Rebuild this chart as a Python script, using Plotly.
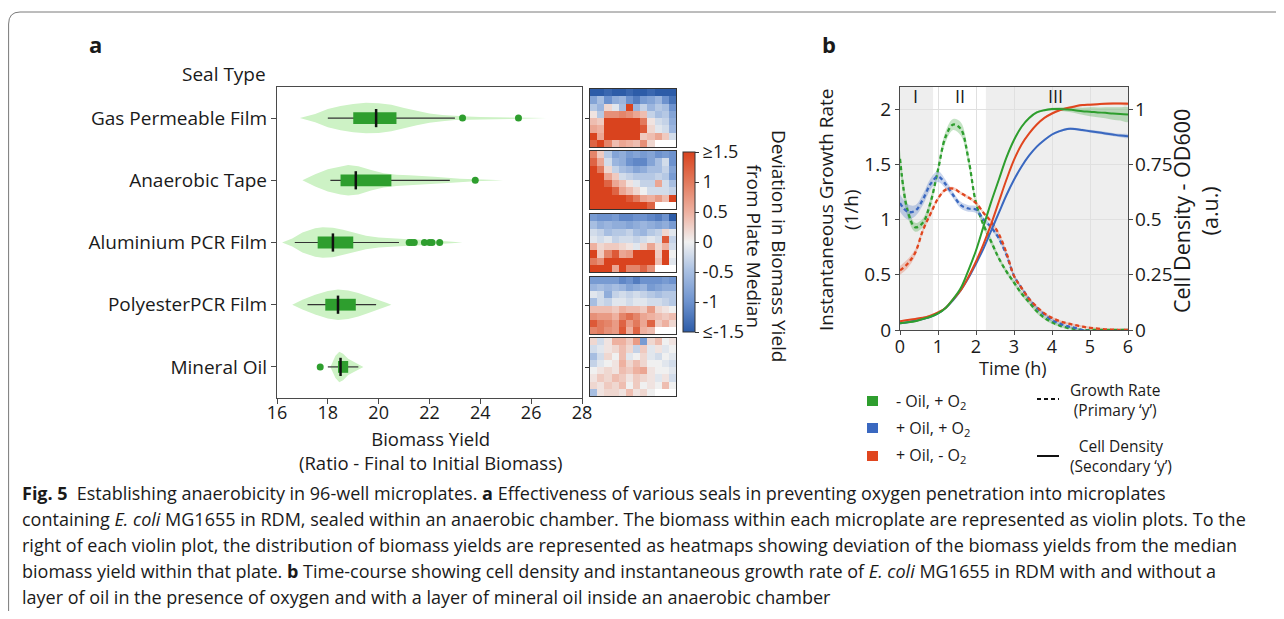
import plotly.graph_objects as go

# page has an 8px body margin: figure covers page pixels 8..1276 x 8..611
PAGE_OFF = 8
W, H = 1268, 603
FONT = "Open Sans"
def fx(p):
    return (p - PAGE_OFF) / W
def fy(p):
    return 1 - (p - PAGE_OFF) / H

# ---------------- Panel a data ----------------
seal_types = ["Gas Permeable Film", "Anaerobic Tape", "Aluminium PCR Film", "PolyesterPCR Film", "Mineral Oil"]

# violin outlines: yield values and relative density (0..1)
violin_x = [
    [16.9, 17.5, 18.0, 18.5, 19.0, 19.5, 20.0, 20.5, 21.0, 21.5, 22.0, 22.5, 23.0, 23.5, 24.0, 25.0, 26.0, 26.6],
    [17.0, 17.5, 18.0, 18.5, 18.8, 19.2, 19.7, 20.2, 20.7, 21.2, 21.7, 22.2, 22.7, 23.2, 23.8, 24.9],
    [16.2, 16.6, 17.0, 17.5, 17.8, 18.2, 18.6, 19.0, 19.5, 20.0, 20.5, 21.0, 21.5, 22.0, 22.5, 23.3],
    [16.6, 17.0, 17.5, 18.0, 18.4, 18.8, 19.2, 19.6, 20.0, 20.3, 20.5],
    [18.1, 18.2, 18.3, 18.45, 18.6, 18.8, 19.0, 19.2, 19.4],
]
violin_density = [
    [0, 0.27, 0.6, 0.8, 0.93, 1.0, 0.97, 0.87, 0.67, 0.47, 0.3, 0.2, 0.13, 0.1, 0.07, 0.05, 0.03, 0],
    [0, 0.4, 0.73, 0.93, 1.0, 0.93, 0.67, 0.47, 0.37, 0.33, 0.3, 0.23, 0.17, 0.1, 0.07, 0],
    [0, 0.26, 0.65, 0.94, 1.0, 0.97, 0.84, 0.65, 0.45, 0.32, 0.26, 0.23, 0.19, 0.16, 0.1, 0],
    [0, 0.32, 0.65, 0.9, 1.0, 0.94, 0.77, 0.55, 0.32, 0.13, 0],
    [0, 0.33, 0.73, 1.0, 0.87, 0.53, 0.33, 0.17, 0],
]
box_low = [18.0, 18.1, 16.7, 17.2, 18.0]
box_q1 = [19.0, 18.5, 17.6, 17.9, 18.4]
box_median = [19.9, 19.1, 18.2, 18.4, 18.5]
box_q3 = [20.7, 20.5, 19.0, 19.1, 18.8]
box_high = [23.0, 22.8, 20.8, 19.9, 19.2]
outliers = [
    [23.3, 25.5],
    [23.8],
    [21.2, 21.3, 21.4, 21.8, 22.0, 22.1, 22.4],
    [],
    [17.7],
]
yield_ticks = [16, 18, 20, 22, 24, 26, 28]

# heatmaps: deviation from plate median, 8 rows x 12 columns
heat_gas = [
    [-1.5, -1.5, -1.4, -1.5, -1.5, -1.4, -1.5, -1.5, -1.4, -1.5, -1.5, -1.5],
    [-0.8, -0.5, -1.0, -0.7, -0.6, -1.0, -1.2, -0.9, -0.8, -0.6, -1.0, -1.3],
    [-0.4, -0.6, 0.2, -0.1, -0.5, 1.5, -0.6, -0.3, -0.6, -0.4, -0.5, -1.0],
    [0.1, -0.4, 0.8, 0.8, 0.9, 0.8, 0.6, 0.4, -0.3, -0.5, -0.4, -0.8],
    [0.4, 0.3, 1.5, 1.5, 1.5, 1.5, 1.5, 1.0, 0.1, -0.2, -0.3, -0.7],
    [0.6, 0.5, 1.5, 1.5, 1.5, 1.5, 1.5, 1.3, 0.2, -0.1, -0.2, -0.6],
    [1.5, 0.6, 1.5, 1.5, 1.5, 1.5, 1.5, 0.3, 0.4, 0.6, 0.3, -0.2],
    [1.2, 1.5, 0.9, 0.4, 0.6, 0.5, 0.4, 0.8, 0.2, None, None, None],
]
heat_tape = [
    [0.9, 0.3, -0.4, -0.8, -0.7, -0.9, -0.8, -0.9, -0.8, -1.0, -0.9, -1.0],
    [1.2, 0.6, -0.2, -0.6, -0.7, -1.0, -1.1, -1.1, -0.8, -0.5, -0.2, -1.0],
    [1.5, 1.0, 0.2, -0.3, -0.5, -0.6, -0.8, -0.7, -0.5, -0.5, -0.3, -0.8],
    [1.5, 1.5, 0.6, 0.3, -0.2, -0.3, -0.4, -0.4, -0.4, -0.3, -0.4, -0.9],
    [1.5, 1.5, 1.2, 0.6, 0.4, 0.1, -0.1, -0.3, -0.3, 0.6, -0.2, -0.5],
    [1.5, 1.5, 1.5, 1.2, 0.6, 0.4, 0.2, 0.0, -0.2, -0.2, -0.2, -0.3],
    [1.5, 1.5, 1.5, 1.5, 1.5, 1.3, 1.0, 0.6, 0.5, 0.7, 0.4, 1.5],
    [1.5, 1.5, 1.5, 1.5, 1.5, 1.5, 1.5, 1.5, 1.2, None, None, None],
]
heat_alu = [
    [-0.9, -1.0, -1.0, -0.9, -1.1, -1.1, -1.0, -1.0, -1.1, -1.2, -1.0, -1.5],
    [-0.5, -0.7, -0.6, -0.7, -0.7, -0.8, -0.7, -0.6, -0.7, -0.8, -0.7, -0.9],
    [-0.2, -0.3, -0.5, -0.4, -0.4, -0.3, -0.5, -0.6, -0.4, -0.3, 0.2, -0.1],
    [-0.1, -0.2, -0.1, -0.3, -0.2, -0.2, -0.3, -0.2, -0.1, -0.2, 1.3, -0.3],
    [0.5, 0.2, 0.3, 0.3, 0.2, 0.1, -0.1, 0.2, 0.6, 0.2, 0.5, -0.2],
    [1.5, 0.3, 0.9, 1.3, 0.6, 0.7, 1.5, 1.5, 1.5, 0.3, 1.5, 0.0],
    [1.0, 0.8, 1.5, 1.5, 1.5, 1.5, 1.5, 1.5, 1.5, 0.4, 1.5, -0.1],
    [1.5, 1.5, 1.5, 0.6, 1.5, 0.9, 0.9, 1.2, 0.8, None, None, None],
]
heat_poly = [
    [-0.9, -0.9, -0.9, -0.9, -1.1, -1.0, -1.2, -1.0, -1.0, -1.0, -0.9, -1.0],
    [-0.6, -0.5, -0.6, -0.5, -0.6, -0.8, -0.7, -0.6, -0.9, -0.8, -0.7, -0.7],
    [-0.1, -0.2, -0.7, -0.3, -0.2, -0.3, -0.2, -0.3, -0.4, -0.5, -0.4, -0.4],
    [-0.5, -0.2, -0.3, -0.1, -0.1, -0.2, -0.1, -0.1, -0.2, -0.2, -0.3, -0.4],
    [0.4, 0.4, 0.4, 0.3, 0.5, 0.4, 0.4, 0.3, 0.7, 0.2, 0.1, 0.0],
    [0.8, 0.7, 0.7, 0.5, 0.9, 1.1, 0.9, 0.6, 0.5, 0.4, 0.3, 0.4],
    [1.3, 1.0, 0.9, 0.7, 1.2, 0.7, 1.0, 0.6, 1.2, 0.3, 0.5, 0.2],
    [0.9, 1.0, 0.8, 0.7, 1.3, 0.5, 1.2, 0.5, 0.4, None, None, None],
]
heat_oil = [
    [0.2, -0.2, 0.1, 0.5, 0.5, 0.3, 0.7, -0.9, 0.2, 0.4, 0.0, 0.1],
    [-0.2, -0.1, 0.1, 0.2, 0.4, 0.2, -0.3, 0.3, -0.1, 0.1, -0.1, 0.0],
    [-0.5, -0.2, 0.2, 0.0, 0.4, -0.1, 0.0, 0.2, -0.1, -0.2, 0.0, -0.1],
    [-0.3, -0.1, 0.0, 0.1, 0.5, 0.2, 0.4, 0.2, 0.0, 0.0, -0.1, -0.2],
    [0.0, 0.1, 0.2, 0.1, 0.4, 0.3, 0.5, 0.6, 0.1, 0.0, 0.0, -0.1],
    [0.1, 0.3, 0.2, 0.4, 0.3, 0.1, 0.3, 0.2, 0.1, -0.1, 0.1, -0.2],
    [0.2, 0.1, 0.3, 0.2, 0.4, 0.0, 0.3, 0.0, 0.1, 0.0, 0.4, 0.0],
    [-0.5, 0.1, 0.2, 0.2, 0.1, 0.4, 0.1, 0.2, 0.0, None, None, None],
]
heatmaps = [heat_gas, heat_tape, heat_alu, heat_poly, heat_oil]
cbar_vals = [-1.5, -1, -0.5, 0, 0.5, 1, 1.5]
cbar_text = ["≤-1.5", "-1", "-0.5", "0", "0.5", "1", "≥1.5"]

# ---------------- Panel b data ----------------
time_h = [0.0, 0.2, 0.4, 0.6, 0.8, 1.0, 1.2, 1.4, 1.6, 1.8, 2.0, 2.2, 2.4, 2.6, 2.8, 3.0,
          3.2, 3.4, 3.6, 3.8, 4.0, 4.2, 4.4, 4.6, 4.8, 5.0, 5.2, 5.4, 5.6, 5.8, 6.0]
rate_green = [1.55, 1.08, 0.93, 0.97, 1.15, 1.45, 1.75, 1.86, 1.82, 1.55, 1.15, 0.95, 0.80, 0.65, 0.53, 0.43,
              0.33, 0.25, 0.17, 0.11, 0.07, 0.04, 0.02, 0.01, 0.0, 0.0, 0.0, 0.0, 0.0, 0.0, 0.0]
rate_blue = [1.15, 1.07, 1.08, 1.18, 1.32, 1.39, 1.32, 1.22, 1.13, 1.10, 1.09, 1.00, 0.93, 0.83, 0.68, 0.49,
             0.38, 0.28, 0.20, 0.14, 0.09, 0.06, 0.035, 0.02, 0.0, -0.01, -0.02, -0.02, -0.02, -0.015, -0.01]
rate_red = [0.54, 0.60, 0.70, 0.90, 1.05, 1.19, 1.27, 1.28, 1.24, 1.20, 1.15, 1.06, 0.98, 0.87, 0.70, 0.49,
            0.38, 0.28, 0.21, 0.15, 0.11, 0.08, 0.06, 0.045, 0.03, 0.02, 0.012, 0.006, 0.003, 0.0, 0.0]
od_green = [0.03, 0.035, 0.04, 0.05, 0.06, 0.075, 0.10, 0.14, 0.19, 0.27, 0.36, 0.47, 0.58, 0.68, 0.78, 0.86,
            0.92, 0.96, 0.985, 0.995, 1.0, 1.0, 0.998, 0.995, 0.99, 0.988, 0.985, 0.983, 0.98, 0.978, 0.975]
od_red = [0.04, 0.045, 0.05, 0.055, 0.065, 0.08, 0.10, 0.14, 0.18, 0.24, 0.31, 0.39, 0.48, 0.58, 0.68, 0.77,
          0.84, 0.89, 0.93, 0.96, 0.98, 0.995, 1.005, 1.012, 1.018, 1.02, 1.022, 1.024, 1.025, 1.025, 1.024]
od_blue = [0.03, 0.035, 0.042, 0.05, 0.06, 0.075, 0.10, 0.135, 0.18, 0.235, 0.30, 0.37, 0.45, 0.53, 0.61, 0.68,
           0.74, 0.79, 0.83, 0.86, 0.885, 0.90, 0.91, 0.91, 0.905, 0.90, 0.895, 0.89, 0.885, 0.88, 0.877]
# confidence half-widths
rate_green_ci = [0.08, 0.06, 0.04, 0.04, 0.04, 0.04, 0.05, 0.05, 0.06, 0.05, 0.03, 0.03, 0.03, 0.02, 0.02, 0.02,
                 0.02, 0.02, 0.02, 0.015, 0.015, 0.01, 0.01, 0.01, 0.01, 0.01, 0.01, 0.01, 0.01, 0.01, 0.01]
rate_blue_ci = [0.08, 0.07, 0.05, 0.05, 0.05, 0.05, 0.04, 0.03, 0.03, 0.03, 0.03, 0.02, 0.02, 0.02, 0.02, 0.02,
                0.015, 0.015, 0.015, 0.015, 0.015, 0.01, 0.01, 0.01, 0.01, 0.01, 0.01, 0.01, 0.01, 0.01, 0.01]
rate_red_ci = [0.04, 0.04, 0.03, 0.02, 0.02, 0.015, 0.015, 0.015, 0.015, 0.015, 0.015, 0.015, 0.015, 0.015, 0.015, 0.015,
               0.01, 0.01, 0.01, 0.01, 0.01, 0.01, 0.01, 0.01, 0.01, 0.01, 0.01, 0.01, 0.01, 0.01, 0.01]
od_green_ci = [0.004, 0.004, 0.004, 0.004, 0.004, 0.004, 0.004, 0.004, 0.004, 0.004, 0.005, 0.005, 0.005, 0.005, 0.005, 0.005,
               0.005, 0.005, 0.005, 0.005, 0.006, 0.008, 0.01, 0.013, 0.016, 0.02, 0.022, 0.025, 0.028, 0.03, 0.033]
od_blue_ci = [0.004, 0.004, 0.004, 0.004, 0.004, 0.004, 0.004, 0.004, 0.004, 0.004, 0.004, 0.004, 0.004, 0.004, 0.004, 0.004,
              0.005, 0.005, 0.005, 0.005, 0.005, 0.005, 0.006, 0.006, 0.006, 0.006, 0.007, 0.007, 0.007, 0.008, 0.008]
od_red_ci = [0.004, 0.004, 0.004, 0.004, 0.004, 0.004, 0.004, 0.004, 0.004, 0.004, 0.004, 0.004, 0.004, 0.004, 0.004, 0.004,
             0.004, 0.004, 0.004, 0.004, 0.005, 0.005, 0.005, 0.005, 0.005, 0.005, 0.005, 0.006, 0.006, 0.006, 0.006]
phase_edges = [0, 0.87, 2.26, 6]
phase_labels = ["I", "II", "III"]
phase_label_x = [0.4, 1.57, 4.1]
conditions = ["- Oil, + O<sub>2</sub>", "+ Oil, + O<sub>2</sub>", "+ Oil, - O<sub>2</sub>"]

caption_lines = [
    "<b>Fig. 5</b>\u2002Establishing anaerobicity in 96-well microplates. <b>a</b> Effectiveness of various seals in preventing oxygen penetration into microplates",
    "containing <i>E. coli</i> MG1655 in RDM, sealed within an anaerobic chamber. The biomass within each microplate are represented as violin plots. To the",
    "right of each violin plot, the distribution of biomass yields are represented as heatmaps showing deviation of the biomass yields from the median",
    "biomass yield within that plate. <b>b</b> Time-course showing cell density and instantaneous growth rate of <i>E. coli</i> MG1655 in RDM with and without a",
    "layer of oil in the presence of oxygen and with a layer of mineral oil inside an anaerobic chamber",
]

# ---------------- styles ----------------
GREEN = "#2E9E2E"
BLUE = "#3A68C0"
RED = "#E0461F"
VIOLIN_FILL = "#CDF2C5"
AXIS_COLOR = "#4A4A4A"
TXT = "#1A1A1A"
FS = 19
colorscale = [[0, "#2D5CA8"], [0.17, "#6E93CF"], [0.34, "#A9C0E2"], [0.5, "#F0F0F0"],
              [0.66, "#EEB3A3"], [0.83, "#E27B5E"], [1, "#D9431E"]]

fig = go.Figure()

# ----- violins -----
MAXW = 0.245
BOXH = 0.095
for i, name in enumerate(seal_types):
    xs = violin_x[i]
    ws = [d * MAXW for d in violin_density[i]]
    fig.add_trace(go.Scatter(
        x=xs + xs[::-1], y=[i - w for w in ws] + [i + w for w in ws[::-1]],
        fill="toself", fillcolor=VIOLIN_FILL, line=dict(width=0), mode="lines",
        hoverinfo="skip", showlegend=False, xaxis="x", yaxis="y"))
    fig.add_trace(go.Scatter(x=[box_low[i], box_high[i]], y=[i, i], mode="lines",
                             line=dict(color="#333333", width=1.2), showlegend=False,
                             xaxis="x", yaxis="y"))
    fig.add_trace(go.Scatter(
        x=[box_q1[i], box_q3[i], box_q3[i], box_q1[i], box_q1[i]],
        y=[i - BOXH, i - BOXH, i + BOXH, i + BOXH, i - BOXH],
        fill="toself", fillcolor=GREEN, line=dict(width=0), mode="lines",
        showlegend=False, xaxis="x", yaxis="y"))
    fig.add_trace(go.Scatter(x=[box_median[i]], y=[i], mode="markers",
                             marker=dict(symbol="line-ns", size=13, line=dict(color="#111111", width=2.5)),
                             showlegend=False, xaxis="x", yaxis="y"))
    if outliers[i]:
        fig.add_trace(go.Scatter(x=outliers[i], y=[i] * len(outliers[i]), mode="markers",
                                 marker=dict(color=GREEN, size=7), showlegend=False,
                                 xaxis="x", yaxis="y"))

# ----- heatmaps -----
heat_y = [(89, 147), (151, 209), (214, 272), (277, 334), (338, 396)]
for k, z in enumerate(heatmaps):
    fig.add_trace(go.Heatmap(z=z, coloraxis="coloraxis", xaxis=f"x{k+2}", yaxis=f"y{k+2}"))

# ----- panel b -----
def band(x, y, ci, color, yaxis):
    up = [a + b for a, b in zip(y, ci)]
    lo = [a - b for a, b in zip(y, ci)]
    fig.add_trace(go.Scatter(x=x + x[::-1], y=up + lo[::-1], fill="toself", fillcolor=color,
                             line=dict(width=0, shape="spline"), mode="lines", hoverinfo="skip",
                             showlegend=False, xaxis="x7", yaxis=yaxis))

band(time_h, rate_green, rate_green_ci, "rgba(46,158,46,0.28)", "y7")
band(time_h, rate_blue, rate_blue_ci, "rgba(58,104,192,0.28)", "y7")
band(time_h, rate_red, rate_red_ci, "rgba(224,70,31,0.25)", "y7")
DASH = "4px,3px"
for y, c in [(rate_green, GREEN), (rate_blue, BLUE), (rate_red, RED)]:
    fig.add_trace(go.Scatter(x=time_h, y=y, mode="lines", line=dict(color=c, width=2.3, dash=DASH, shape="spline"),
                             showlegend=False, xaxis="x7", yaxis="y7"))
band(time_h, od_green, od_green_ci, "rgba(46,158,46,0.28)", "y8")
band(time_h, od_blue, od_blue_ci, "rgba(58,104,192,0.28)", "y8")
band(time_h, od_red, od_red_ci, "rgba(224,70,31,0.25)", "y8")
for y, c in [(od_blue, BLUE), (od_red, RED), (od_green, GREEN)]:
    fig.add_trace(go.Scatter(x=time_h, y=y, mode="lines", line=dict(color=c, width=2, shape="spline"),
                             showlegend=False, xaxis="x7", yaxis="y8"))

shapes = []
for j in range(len(phase_labels)):
    if j != 1:
        shapes.append(dict(type="rect", xref="x7", yref="y7 domain", x0=phase_edges[j], x1=phase_edges[j + 1],
                           y0=0, y1=1, fillcolor="#EEEEEE", line=dict(width=0), layer="below"))

# outer frame
shapes.append(dict(type="path", xref="paper", yref="paper",
                   path=f"M {fx(8.6)},{fy(640)} L {fx(8.6)},{fy(24)} Q {fx(8.6)},{fy(12)} {fx(20)},{fy(12)} L {fx(1300)},{fy(12)}",
                   line=dict(color="#7A7A7A", width=1)))

ann = []
def text(x, y, s, size=FS, xanchor="center", yanchor="middle", angle=0, family=FONT):
    ann.append(dict(x=fx(x), y=fy(y), xref="paper", yref="paper", text=s, showarrow=False,
                    xanchor=xanchor, yanchor=yanchor, textangle=angle,
                    font=dict(family=family, size=size, color=TXT)))

text(87, 44, "<b>a</b>", size=22, xanchor="left")
text(820, 44, "<b>b</b>", size=22, xanchor="left")
text(268, 74, "Seal Type", xanchor="right")
text(430, 450, "Biomass Yield<br>(Ratio - Final to Initial Biomass)", size=18.5)
text(767, 246, "Deviation in Biomass Yield<br>from Plate Median", angle=90)
text(838, 210, "Instantaneous Growth Rate<br>(1/h)", angle=-90)
text(1195, 211, "Cell Density - OD600<br>(a.u.)", size=21.5, angle=-90)
text(1013, 368, "Time (h)", size=18)
for lab, xv in zip(phase_labels, phase_label_x):
    ann.append(dict(x=xv, y=2.12, xref="x7", yref="y7", text=lab, showarrow=False,
                    font=dict(family=FONT, size=18, color=TXT)))

# legend for panel b
leg_y = [401, 428, 456]
for c, lab, yy in zip([GREEN, BLUE, RED], conditions, leg_y):
    shapes.append(dict(type="rect", xref="paper", yref="paper", x0=fx(867), x1=fx(878), y0=fy(yy - 5), y1=fy(yy + 5),
                       fillcolor=c, line=dict(width=0)))
    text(894, yy, lab, size=16, xanchor="left")
shapes.append(dict(type="line", xref="paper", yref="paper", x0=fx(1037), x1=fx(1059), y0=fy(399), y1=fy(399),
                   line=dict(color="#111111", width=2, dash="4px,3px")))
shapes.append(dict(type="line", xref="paper", yref="paper", x0=fx(1037), x1=fx(1059), y0=fy(456), y1=fy(456),
                   line=dict(color="#111111", width=2)))
text(1068, 400, "Growth Rate<br>(Primary \u2018y\u2019)", size=15.5, xanchor="left")
text(1068, 456, "Cell Density<br>(Secondary \u2018y\u2019)", size=15.5, xanchor="left")

# caption
for n, line in enumerate(caption_lines):
    text(20, 493 + 26 * n, line, size=18, xanchor="left")

axis_common = dict(showline=True, linecolor=AXIS_COLOR, linewidth=1.3, zeroline=False, automargin=False,
                   tickcolor=AXIS_COLOR)
tick_y = dict(family=FONT, size=FS, color=TXT)
tick_x = dict(family=FONT, size=18, color=TXT)

layout = dict(
    width=W, height=H, margin=dict(l=0, r=0, t=0, b=0, autoexpand=False),
    paper_bgcolor="white", plot_bgcolor="white",
    font=dict(family=FONT, color=TXT),
    showlegend=False,
    shapes=shapes, annotations=ann,
    xaxis=dict(domain=[fx(277), fx(582)], range=[16, 28], tickvals=yield_ticks, ticks="outside", ticklen=5,
               ticklabelstandoff=-7, mirror=True, showgrid=False, anchor="y", tickfont=tick_x, **axis_common),
    yaxis=dict(domain=[fy(398), fy(87)], range=[4.5, -0.5], tickvals=list(range(len(seal_types))),
               ticktext=seal_types, ticks="outside", ticklen=5, mirror=True, showgrid=False, anchor="x",
               tickfont=tick_y, **axis_common),
    coloraxis=dict(colorscale=colorscale, cmin=-1.5, cmax=1.5,
                   colorbar=dict(x=fx(683), xanchor="left", y=fy(242), yanchor="middle", len=180 / H,
                                 lenmode="fraction", thickness=12, thicknessmode="pixels",
                                 outlinewidth=1, outlinecolor="#333333", tickvals=cbar_vals, ticktext=cbar_text,
                                 ticks="outside", ticklen=4, tickcolor="#333333",
                                 tickfont=dict(family=FONT, size=18, color=TXT), xpad=0, ypad=0)),
    xaxis7=dict(domain=[fx(900), fx(1128)], range=[0, 6], dtick=1, ticks="outside", ticklen=4,
                ticklabelstandoff=-4, showgrid=True, gridcolor="#E0E0E0", gridwidth=1, mirror=True,
                anchor="y7", tickfont=tick_x, **axis_common),
    yaxis7=dict(domain=[fy(330), fy(87)], range=[0, 2.2], tickvals=[0, 0.5, 1, 1.5, 2],
                ticktext=["0", "0.5", "1", "1.5", "2"], ticks="outside", ticklen=4,
                showgrid=True, gridcolor="#E0E0E0", gridwidth=1, anchor="x7", tickfont=tick_y, **axis_common),
    yaxis8=dict(domain=[fy(330), fy(87)], range=[0, 1.1], tickvals=[0, 0.25, 0.5, 0.75, 1],
                ticktext=["0", "0.25", "0.5", "0.75", "1"], ticks="outside", ticklen=4, ticklabelstandoff=-2,
                showgrid=False, overlaying="y7", side="right", anchor="x7", tickfont=tick_y, **axis_common),
)
for k, (y0, y1) in enumerate(heat_y):
    layout[f"xaxis{k+2}"] = dict(domain=[fx(590), fx(676)], range=[-0.5, 11.5], showticklabels=False,
                                 showgrid=False, zeroline=False, showline=True, mirror=True, automargin=False,
                                 linecolor="#333333", linewidth=1, ticks="", anchor=f"y{k+2}")
    layout[f"yaxis{k+2}"] = dict(domain=[fy(y1), fy(y0)], range=[7.5, -0.5], showticklabels=False,
                                 showgrid=False, zeroline=False, showline=True, mirror=True, automargin=False,
                                 linecolor="#333333", linewidth=1, ticks="outside", ticklen=4,
                                 tickvals=[3.5], tickcolor="#333333", anchor=f"x{k+2}")

fig.update_layout(**layout)
fig.write_html("out.html")
